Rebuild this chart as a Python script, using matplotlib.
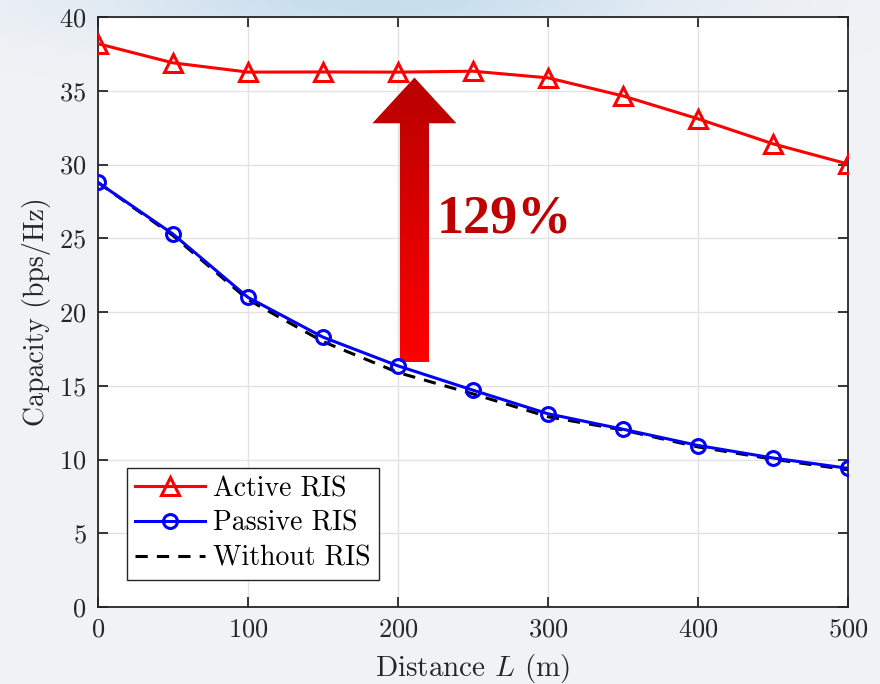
import numpy as np
import matplotlib.pyplot as plt
from matplotlib.colors import LinearSegmentedColormap
from matplotlib.patches import Polygon

# data
distance = [0, 50, 100, 150, 200, 250, 300, 350, 400, 450, 500]
active_ris = [38.2, 36.9, 36.27, 36.28, 36.27, 36.33, 35.88, 34.65, 33.1, 31.4, 30.03]
passive_ris = [28.8, 25.3, 21.0, 18.3, 16.35, 14.7, 13.1, 12.05, 10.95, 10.1, 9.4]
without_ris = [28.8, 25.2, 20.85, 18.0, 15.9, 14.45, 12.9, 12.0, 10.85, 10.02, 9.3]
x_ticks = [0, 100, 200, 300, 400, 500]
y_ticks = [0, 5, 10, 15, 20, 25, 30, 35, 40]
gain_label = "129%"

plt.rcParams['font.family'] = 'cmr10'
plt.rcParams['mathtext.fontset'] = 'cm'
plt.rcParams['axes.formatter.use_mathtext'] = True

fig = plt.figure(figsize=(8.8, 6.84), dpi=100)

# light slide-like background with a soft blue glow at the top
bg_ax = fig.add_axes([0, 0, 1, 1], zorder=-10)
yy, xx = np.mgrid[0:684, 0:880]
glow = np.exp(-((xx - 380) / 280.0) ** 2 - (yy / 45.0) ** 2)
base = np.array([0.945, 0.95, 0.965])
blue = np.array([0.78, 0.87, 0.93])
bg = base[None, None, :] * (1 - glow[..., None]) + blue[None, None, :] * glow[..., None]
bg_ax.imshow(bg, aspect='auto')
bg_ax.axis('off')

ax = fig.add_axes([0.111, 0.1126, 0.853, 0.8624])
ax.set_facecolor('white')

ax.plot(distance, active_ris, '-^', color='#ff0000', lw=2.2, ms=13, mew=2.2,
        mfc='none', label='Active RIS', zorder=4)
ax.plot(distance, passive_ris, '-o', color='#0000ff', lw=2.2, ms=10, mew=2.2,
        mfc='none', label='Passive RIS', zorder=4)
ax.plot(distance, without_ris, '--', color='black', lw=2.2, dashes=(4, 3),
        label='Without RIS', zorder=3)

# gradient arrow showing the gain
arrow_x, tail_y, neck_y, tip_y = 211, 16.6, 32.8, 35.9
shaft_hw, head_hw = 9.7, 28
poly = Polygon([(arrow_x - shaft_hw, tail_y), (arrow_x + shaft_hw, tail_y),
                (arrow_x + shaft_hw, neck_y), (arrow_x + head_hw, neck_y),
                (arrow_x, tip_y), (arrow_x - head_hw, neck_y),
                (arrow_x - shaft_hw, neck_y)], closed=True,
               facecolor='none', edgecolor='none', transform=ax.transData)
ax.add_patch(poly)
cmap = LinearSegmentedColormap.from_list('arrow', ['#ff0000', '#b80000'])
im = ax.imshow(np.linspace(0, 1, 256).reshape(-1, 1),
               extent=[arrow_x - head_hw, arrow_x + head_hw, tail_y, tip_y],
               origin='lower', cmap=cmap, aspect='auto', zorder=2)
im.set_clip_path(poly)

ax.text(226, 26.3, gain_label, color='#c00000', fontsize=39, fontweight='bold',
        family=['Liberation Serif', 'DejaVu Serif'], va='center', ha='left')

ax.set_xlim(0, 500)
ax.set_ylim(0, 40)
ax.set_xticks(x_ticks)
ax.set_yticks(y_ticks)
ax.grid(True, color='#e3e3e3', lw=1)
ax.set_axisbelow(True)
ax.tick_params(direction='in', length=7, width=1.3, top=True, right=True,
               labelsize=19, colors='#262626', pad=8)
for s in ax.spines.values():
    s.set_color('#262626')
    s.set_linewidth(1.3)

ax.set_xlabel('Distance $L$ (m)', fontsize=21, color='#262626', labelpad=7)
ax.set_ylabel('Capacity (bps/Hz)', fontsize=20, color='#262626', labelpad=6)

leg = ax.legend(loc='lower left', bbox_to_anchor=(0.039, 0.046), fontsize=20,
                fancybox=False, framealpha=1, edgecolor='#262626',
                handlelength=2.5, borderpad=0.3, labelspacing=0.3,
                handletextpad=0.3, borderaxespad=0)
leg.get_frame().set_linewidth(1.0)

fig.savefig('out.png', dpi=100)
